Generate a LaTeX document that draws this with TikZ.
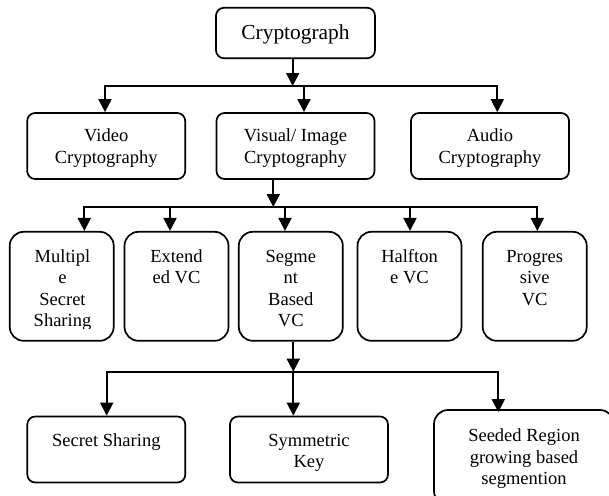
\documentclass[tikz,border=0pt]{standalone}
\usepackage{fontspec}
\setmainfont{Liberation Serif}
\usetikzlibrary{arrows.meta}
\begin{document}
\begin{tikzpicture}[x=1pt,y=-1pt,
  box/.style={draw, line width=1.7pt, rounded corners=8pt, inner sep=0pt},
  tallbox/.style={box, rounded corners=14pt, minimum width=104pt, minimum height=109pt},
  widebox/.style={box, minimum width=158pt, minimum height=66pt},
  lbl/.style={anchor=base, align=center, inner sep=0pt, font=\fontsize{18.5}{21.5}\selectfont},
  bus/.style={line width=1.8pt, line cap=rect},
  arr/.style={line width=1.8pt, -{Triangle[width=13pt,length=13pt]}}]
\path[clip] (0,0) rectangle (609,495);

% ---- boxes ----
\node[box, minimum width=159pt, minimum height=50.5pt] (crypto) at (295.5,33) {};
\node[widebox] (video)  at (106.2,146) {};
\node[widebox] (visual) at (295.5,146) {};
\node[widebox] (audio)  at (490,146) {};

\node[tallbox] (m1) at (61.7,286.3) {};
\node[tallbox] (m2) at (176.5,286.3) {};
\node[tallbox] (m3) at (290.8,286.3) {};
\node[tallbox] (m4) at (409.5,286.3) {};
\node[tallbox] (m5) at (534.7,286.3) {};

\node[widebox] (sec) at (106.3,449.5) {};
\node[widebox] (sym) at (309,449.5) {};
\node[box, rounded corners=14pt, minimum width=180pt, minimum height=95pt] (seed) at (524,457.5) {};

% ---- labels (anchored at the baseline of their last line) ----
\node[lbl, font=\fontsize{21.4}{24}\selectfont] (tcrypto) at (295.5,39.3) {Cryptograph};
\node[lbl] (tvideo)  at (106.2,163.2) {Video\\Cryptography};
\node[lbl] (tvisual) at (295.5,163.2) {Visual/ Image\\Cryptography};
\node[lbl] (taudio)  at (490,163.2) {Audio\\Cryptography};

\begin{scope}
  \clip (0,228) rectangle (120,328);
  \node[lbl] (tm1) at (62.5,326.5) {Multipl\\e\\Secret\\Sharing};
\end{scope}
\node[lbl] (tm2) at (176.5,283.5) {Extend\\ed VC};
\node[lbl] (tm3) at (290.8,326.5) {Segme\\nt\\Based\\VC};
\node[lbl] (tm4) at (409.5,283.5) {Halfton\\e VC};
\node[lbl] (tm5) at (534.7,305) {Progres\\sive\\VC};

\node[lbl] (tsec) at (106.3,446.5) {Secret Sharing};
\node[lbl] (tsym) at (309,467.5) {Symmetric\\Key};
\begin{scope}
  \clip (430,405) rectangle (609,488.5);
  \node[lbl] (tseed) at (524,484.7) {Seeded Region\\growing based\\segmention};
\end{scope}

% ---- level 1 connectors ----
\coordinate (j1)  at (292.7,86);
\coordinate (b1l) at (105,86);
\coordinate (b1m) at (304,86);
\coordinate (b1r) at (497.3,86);
\draw[arr] (crypto.south -| j1) -- (j1);
\draw[bus] (b1l) -- (b1r);
\draw[arr] (b1l) -- (b1l |- video.north);
\draw[arr] (b1m) -- (b1m |- visual.north);
\draw[arr] (b1r) -- (b1r |- audio.north);

% ---- level 2 connectors ----
\coordinate (j2)  at (273.3,207);
\coordinate (b2a) at (84.3,207);
\coordinate (b2b) at (170,207);
\coordinate (b2c) at (285,207);
\coordinate (b2d) at (410,207);
\coordinate (b2e) at (537.3,207);
\draw[arr] (visual.south -| j2) -- (j2);
\draw[bus] (b2a) -- (b2e);
\draw[arr] (b2a) -- (b2a |- m1.north);
\draw[arr] (b2b) -- (b2b |- m2.north);
\draw[arr] (b2c) -- (b2c |- m3.north);
\draw[arr] (b2d) -- (b2d |- m4.north);
\draw[arr] (b2e) -- (b2e |- m5.north);

% ---- level 3 connectors ----
\coordinate (j3)  at (293.3,371.7);
\coordinate (b3a) at (106.7,371.7);
\coordinate (b3c) at (498.3,371.7);
\draw[arr] (m3.south -| j3) -- (j3);
\draw[bus] (b3a) -- (b3c);
\draw[arr] (b3a) -- (b3a |- sec.north);
\draw[arr] (j3) -- (j3 |- sym.north);
\draw[arr] (b3c) -- ([yshift=-3pt]b3c |- seed.north);
\end{tikzpicture}
\end{document}
